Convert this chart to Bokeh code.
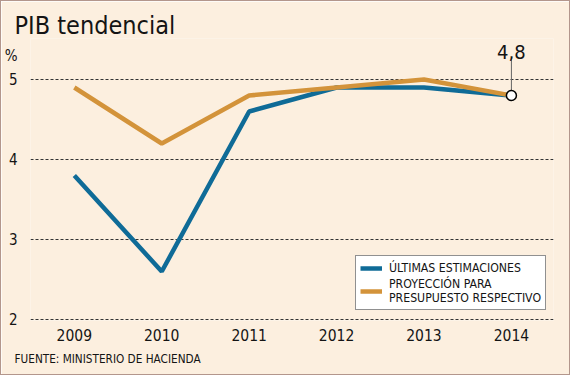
from bokeh.plotting import figure
from bokeh.models import Range1d, FixedTicker, Label, Legend, LegendItem, Title
from bokeh.embed import file_html
from bokeh.resources import INLINE

years = [2009, 2010, 2011, 2012, 2013, 2014]
ultimas = [3.8, 2.6, 4.6, 4.9, 4.9, 4.8]
proyeccion = [4.9, 4.2, 4.8, 4.9, 5.0, 4.8]
y_ticks = [2, 3, 4, 5]
title_text = "PIB tendencial"
unit_text = "%"
source_text = "FUENTE: MINISTERIO DE HACIENDA"
legend_labels = ["ÚLTIMAS ESTIMACIONES", "PROYECCIÓN PARA\nPRESUPUESTO RESPECTIVO"]

FONT = "DejaVu Sans Condensed"
BG = "#fcefdf"
BLUE = "#0f6b97"
ORANGE = "#d3933a"
TXT = "#141414"

p = figure(width=570, height=375, output_backend="svg", toolbar_location=None,
           x_range=Range1d(2008.4986, 2014.4815), y_range=Range1d(1.9875, 5.5125),
           min_border_left=27, min_border_right=18, min_border_top=37, min_border_bottom=56)
p.styles = {"border": "1px solid #b3968c"}
p.background_fill_color = BG
p.border_fill_color = BG
p.outline_line_color = None

p.title.text = title_text
p.title.text_font = FONT
p.title.text_font_size = "25px"
p.title.text_font_style = "normal"
p.title.text_color = TXT
p.title.align = "left"
p.title.offset = -16
p.title.standoff = -2

# unit label sits on the y axis, just above the top tick
unit_pos = y_ticks[-1] + 0.3
p.xaxis.ticker = FixedTicker(ticks=years)
p.yaxis.ticker = FixedTicker(ticks=y_ticks + [unit_pos])
p.yaxis.major_label_overrides = {unit_pos: unit_text}
p.ygrid.ticker = FixedTicker(ticks=y_ticks)
for ax in (p.xaxis, p.yaxis):
    ax.axis_line_color = None
    ax.major_tick_line_color = None
    ax.minor_tick_line_color = None
    ax.major_label_text_font = FONT
    ax.major_label_text_color = TXT
p.xaxis.major_label_text_font_size = "15.5px"
p.xaxis.major_label_standoff = 2
p.yaxis.major_label_text_font_size = "15px"
p.yaxis.major_label_standoff = 7

p.xgrid.grid_line_color = None
p.ygrid.grid_line_color = "#333333"
p.ygrid.grid_line_dash = "3 2"
p.ygrid.grid_line_width = 1

r_blue = p.line(years, ultimas, line_color=BLUE, line_width=4.5)
r_orange = p.line(years, proyeccion, line_color=ORANGE, line_width=4.5)

# callout for last value
last_x = years[-1]
last_y = ultimas[-1]
p.segment(x0=[last_x], y0=[last_y], x1=[last_x], y1=[last_y + 0.4625], line_color="#666666", line_width=1)
p.scatter([last_x], [last_y], size=10, fill_color="white", line_color="black", line_width=1.5)
p.add_layout(Label(x=last_x, y=269, x_units="data", y_units="screen",
                   text=f"{last_y}".replace(".", ","), text_align="center", text_baseline="alphabetic",
                   text_font=FONT, text_font_size="20px", text_color=TXT))

p.add_layout(Title(text=source_text, align="left", offset=-16, text_font=FONT,
                   text_font_size="11.7px", text_font_style="normal", text_color=TXT, standoff=13), "below")

legend = Legend(items=[LegendItem(label=legend_labels[0], renderers=[r_blue]),
                       LegendItem(label=legend_labels[1], renderers=[r_orange])],
                location=(325, 10), label_text_font=FONT, label_text_font_size="12.2px",
                label_text_line_height=1.5,
                label_text_color=TXT, glyph_width=22, glyph_height=16,
                label_standoff=7, padding=4, spacing=1, margin=0,
                border_line_color="#222222", border_line_width=1,
                background_fill_color="white", background_fill_alpha=1)
p.add_layout(legend)

open("out.html", "w").write(file_html(p, INLINE))
